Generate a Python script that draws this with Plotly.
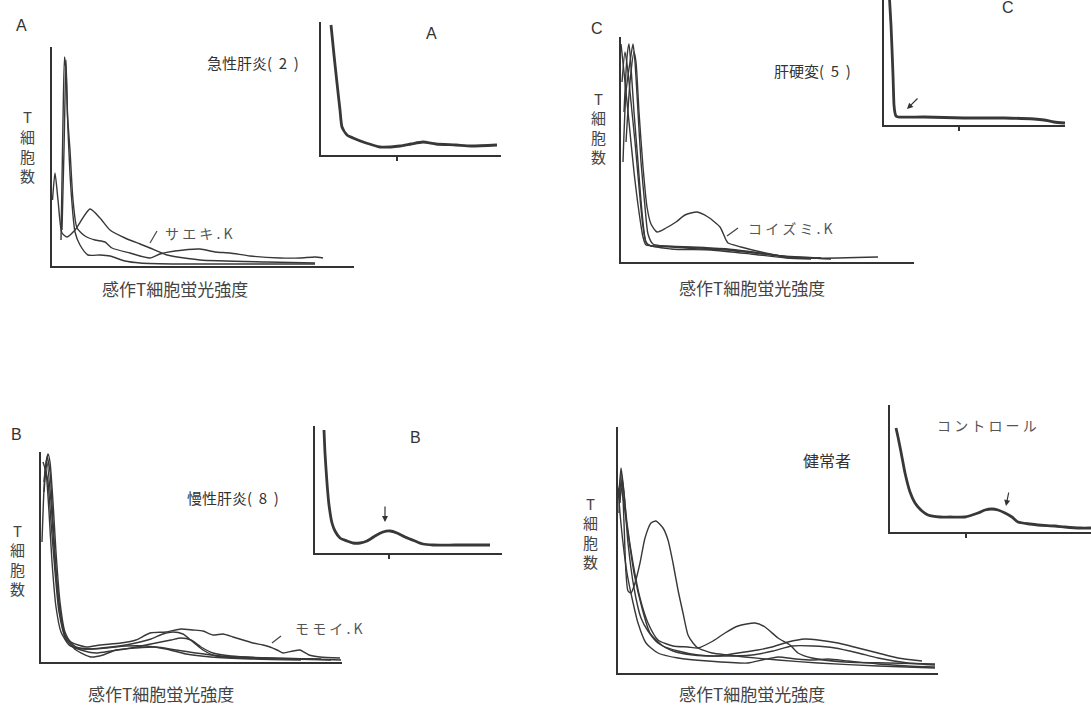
import plotly.graph_objects as go

W, H = 1091, 706

# ---------------- data (arbitrary units) ----------------
# Panel A: acute hepatitis, main plot (x 0..302, y 0..219)
a1_x = [0.5, 3, 6, 10, 15, 23, 38, 48, 58, 73, 88, 98, 115, 148, 215, 263]
a1_y = [66, 93, 66, 33, 29, 36, 57, 48, 36, 28, 22, 18, 11, 6, 4, 3]
a2_x = [9, 11, 12.5, 14, 16, 19, 23, 28, 36, 48, 58, 73, 88, 128, 198, 263]
a2_y = [26, 146, 209, 196, 136, 76, 34, 21, 11, 11, 10, 5, 3, 2, 2, 2]
a3_x = [10, 12, 14, 15.5, 18, 21, 25, 33, 43, 53, 60, 78, 98, 108, 123, 148, 163, 178, 198, 228, 248, 263, 271]
a3_y = [36, 116, 206, 151, 116, 66, 38, 30, 26, 24, 18, 13, 8, 12, 15, 17, 14, 13, 10, 8, 8, 9, 8]
# Panel A inset (x 0..180, y 0..133)
ia_x = [10, 13, 16, 19, 21, 26, 32, 45, 59, 79, 90, 102, 115, 135, 150, 176]
ia_y = [130, 100, 72, 45, 28, 20, 17, 12, 8, 9, 11, 13, 11, 10, 9, 10]

# Panel C: liver cirrhosis, main plot (x 0..293, y 0..225)
c1_x = [0, 3, 8, 13, 18, 22, 25, 40, 70, 107, 140, 177, 257]
c1_y = [218, 190, 140, 90, 50, 25, 17, 16, 15, 13, 9, 4, 5]
c2_x = [3, 6, 8, 10, 13, 17, 21, 25, 30, 50, 80, 110, 135, 170, 210]
c2_y = [150, 205, 218, 195, 150, 100, 50, 20, 16, 15, 13, 12, 9, 5, 3]
c3_x = [2, 5, 9, 12, 14, 17, 20, 24, 27, 32, 60, 95, 125, 160, 200]
c3_y = [100, 170, 200, 218, 200, 150, 100, 55, 28, 18, 15, 13, 10, 6, 4]
c4_x = [5, 9, 13, 15, 18, 22, 26, 30, 36, 45, 55, 64, 76, 87, 99, 105, 107, 120, 140, 165, 200]
c4_y = [120, 180, 210, 200, 150, 95, 55, 38, 30, 34, 40, 47, 50, 45, 35, 22, 19, 15, 10, 5, 4]
c5_x = [1, 4, 7, 10, 14, 18, 22, 26, 50, 90, 130, 165, 190]
c5_y = [180, 210, 190, 160, 120, 75, 35, 18, 13, 12, 8, 4, 3]
# Panel C inset (x 0..181, y 0..125)
ic_x = [5, 7, 9, 10, 11, 12, 14, 40, 80, 120, 150, 160, 170, 181]
ic_y = [135, 100, 50, 20, 12, 9, 8, 8, 7, 7, 6, 5, 3, 2]

# Panel B: chronic hepatitis, main plot (x 0..301, y 0..210)
b1_x = [1, 4, 7, 9, 12, 15, 19, 24, 30, 45, 59, 80, 95, 109, 125, 140, 152, 162, 172, 182, 192, 202, 212, 222, 229, 236, 242, 252, 259, 268, 279, 299]
b1_y = [120, 190, 208, 200, 160, 110, 60, 30, 20, 15, 17, 19, 22, 29, 30, 33, 32, 31, 27, 28, 25, 22, 19, 17, 15, 12, 9, 11, 12, 7, 5, 4]
b2_x = [3, 6, 9, 12, 16, 20, 25, 35, 50, 70, 90, 110, 122, 132, 142, 152, 162, 175, 200, 250, 290]
b2_y = [180, 205, 190, 140, 80, 45, 25, 15, 13, 15, 18, 23, 28, 30, 28, 20, 12, 6, 4, 3, 2]
b3_x = [2, 5, 8, 11, 15, 20, 28, 40, 55, 70, 90, 110, 130, 140, 150, 160, 172, 190, 230, 280]
b3_y = [200, 190, 150, 100, 55, 30, 17, 12, 9, 11, 14, 18, 22, 24, 22, 15, 9, 6, 4, 3]
b4_x = [4, 7, 10, 14, 18, 24, 35, 50, 62, 75, 95, 115, 135, 155, 180, 220, 270, 300]
b4_y = [195, 180, 140, 90, 50, 25, 12, 5, 7, 12, 14, 15, 12, 9, 6, 4, 3, 2]
b5_x = [3, 6, 10, 14, 19, 25, 35, 50, 65, 85, 105, 125, 145, 170, 210, 260]
b5_y = [170, 200, 160, 100, 50, 22, 14, 13, 14, 16, 16, 13, 8, 5, 3, 2]
# Panel B inset (x 0..187, y 0..127)
ib_x = [9, 10, 12, 14, 17, 20, 25, 32, 38, 45, 52, 60, 68, 75, 82, 90, 100, 108, 118, 140, 160, 175]
ib_y = [123, 100, 70, 48, 30, 22, 15, 12, 10, 10, 12, 17, 21, 22, 20, 16, 12, 9, 8, 8, 8, 8]

# Panel D: healthy subjects, main plot (x 0..320, y 0..246)
d1_x = [2, 4, 6, 8, 10, 13, 17, 22, 27, 33, 38, 45, 50, 55, 60, 65, 70, 75, 80, 94, 110, 127, 160, 200, 260, 317]
d1_y = [170, 196, 150, 100, 82, 80, 90, 110, 135, 150, 152, 145, 133, 110, 83, 60, 38, 30, 25, 20, 18, 16, 13, 10, 7, 5]
d2_x = [1, 3, 5, 9, 15, 22, 30, 40, 55, 70, 80, 95, 107, 120, 137, 147, 160, 172, 180, 194, 227, 270, 317]
d2_y = [180, 205, 190, 150, 110, 75, 50, 33, 27, 26, 25, 32, 40, 47, 50, 46, 35, 28, 20, 15, 11, 10, 9]
d3_x = [0, 2, 5, 10, 16, 24, 32, 45, 60, 80, 100, 120, 140, 154, 170, 187, 200, 220, 240, 260, 280, 304]
d3_y = [175, 190, 175, 140, 100, 65, 40, 27, 22, 18, 17, 20, 23, 26, 31, 34, 33, 30, 25, 20, 15, 12]
d4_x = [1, 3, 6, 10, 16, 23, 30, 40, 55, 75, 100, 134, 155, 174, 195, 217, 240, 260, 290, 317]
d4_y = [160, 200, 180, 130, 85, 55, 42, 30, 22, 18, 17, 18, 22, 27, 27, 25, 20, 15, 10, 8]
d5_x = [0, 2, 5, 9, 14, 20, 28, 40, 60, 90, 130, 144, 160, 178, 195, 210, 230, 260, 290, 317]
d5_y = [185, 160, 130, 100, 75, 50, 30, 20, 15, 12, 10, 13, 16, 14, 13, 14, 12, 9, 7, 6]
# Panel D inset (x 0..201, y 0..127)
id_x = [6, 8, 11, 15, 20, 25, 32, 38, 50, 60, 75, 88, 95, 102, 108, 115, 122, 128, 140, 148, 165, 175, 190, 201]
id_y = [104, 95, 80, 59, 40, 29, 21, 17, 15, 15, 15, 19, 22, 23, 22, 19, 15, 10, 8, 7, 6, 5, 4, 4]

# axis-title texts
y_title_chars = ["T", "細", "胞", "数"]
x_title = "感作T細胞蛍光強度"

# ---------------- layout helpers ----------------
LINE = "#383838"
TXT = "#333333"
JP = "Noto Sans CJK JP"


def px_x(px):
    return px / W


def px_y(py):
    return 1 - py / H


# panel boxes in pixels: (left, right, top, bottom), axis ranges, inset tick
panels = [
    dict(box=(52, 354, 47, 266), xr=302, yr=219, series=[(a1_x, a1_y), (a2_x, a2_y), (a3_x, a3_y)], inset=False),
    dict(box=(321, 501, 22, 155), xr=180, yr=133, series=[(ia_x, ia_y)], inset=True, tick=76),
    dict(box=(621, 914, 37, 262), xr=293, yr=225, series=[(c1_x, c1_y), (c2_x, c2_y), (c3_x, c3_y), (c4_x, c4_y), (c5_x, c5_y)], inset=False),
    dict(box=(884, 1065, 0, 125), xr=181, yr=125, series=[(ic_x, ic_y)], inset=True, tick=75),
    dict(box=(41, 342, 452, 662), xr=301, yr=210, series=[(b1_x, b1_y), (b2_x, b2_y), (b3_x, b3_y), (b4_x, b4_y), (b5_x, b5_y)], inset=False),
    dict(box=(315, 502, 426, 553), xr=187, yr=127, series=[(ib_x, ib_y)], inset=True, tick=74),
    dict(box=(618, 938, 427, 673), xr=320, yr=246, series=[(d1_x, d1_y), (d2_x, d2_y), (d3_x, d3_y), (d4_x, d4_y), (d5_x, d5_y)], inset=False),
    dict(box=(890, 1091, 405, 532), xr=201, yr=127, series=[(id_x, id_y)], inset=True, tick=76),
]

fig = go.Figure()
layout_axes = {}
for i, p in enumerate(panels, start=1):
    l, r, t, b = p["box"]
    xa = "x" if i == 1 else f"x{i}"
    ya = "y" if i == 1 else f"y{i}"
    for xs, ys in p["series"]:
        fig.add_trace(go.Scatter(
            x=xs, y=ys, mode="lines", xaxis=xa, yaxis=ya,
            line=dict(color=LINE, width=2.8 if p["inset"] else 1.4, shape="spline", smoothing=0.6),
            showlegend=False, hoverinfo="skip"))
    xkey = "xaxis" if i == 1 else f"xaxis{i}"
    ykey = "yaxis" if i == 1 else f"yaxis{i}"
    xdict = dict(domain=[px_x(l), px_x(r)], range=[0, p["xr"]], anchor=ya,
                 showgrid=False, zeroline=False, showline=True, linecolor="#333",
                 linewidth=2 if p["inset"] else 1.6, showticklabels=False, fixedrange=True)
    if p["inset"]:
        xdict.update(tickvals=[p["tick"]], ticks="outside", ticklen=4, tickwidth=1.5, tickcolor="#333")
    else:
        xdict.update(ticks="")
    layout_axes[xkey] = xdict
    layout_axes[ykey] = dict(domain=[px_y(b), px_y(t)], range=[0, p["yr"]], anchor=xa,
                             showgrid=False, zeroline=False, showline=True, linecolor="#333",
                             linewidth=2 if p["inset"] else 1.6, showticklabels=False, ticks="",
                             fixedrange=True)

fig.update_layout(**layout_axes)

ann = []


def text(s, x, y, size=13, color=TXT, family=JP, xanchor="center"):
    ann.append(dict(text=s, x=px_x(x), y=px_y(y), xref="paper", yref="paper",
                    showarrow=False, xanchor=xanchor, yanchor="middle",
                    font=dict(size=size, color=color, family=family)))


SANS = "Liberation Sans, Arial, sans-serif"
# panel letters
text("A", 21, 26, 16, family=SANS)
text("A", 431, 34, 16, family=SANS)
text("C", 597, 28, 16, family=SANS)
text("C", 1008, 8, 16, family=SANS)
text("B", 16, 434, 16, family=SANS)
text("B", 415, 437, 16, family=SANS)

# group titles
text("急性肝炎(  2  )", 253, 63, 15)
text("肝硬変(  5  )", 812, 71, 15)
text("慢性肝炎(  8  )", 233, 497, 15)
text("健常者", 827, 460, 16)
text("コ ン ト ロ ー ル", 987, 425, 14, color="#555")

# patient labels
text("サ エ キ . K", 198, 233, 14, color="#555")
text("コ イ ズ ミ . K", 790, 228, 14, color="#555")
text("モ モ イ . K", 328, 628, 14, color="#555")

# y-axis labels (vertical, one character per line)
for (cx, tops) in [(27, 117), (598, 98), (17, 530), (590, 503)]:
    for k, ch in enumerate(y_title_chars):
        text(ch, cx, tops + 19.5 * k, 15, color="#444")

# x-axis labels
text(x_title, 175, 288, 17, color="#444")
text(x_title, 752, 287, 17, color="#444")
text(x_title, 161, 693, 17, color="#444")
text(x_title, 752, 693, 17, color="#444")

# arrows in insets
for (hx, hy, tx, ty) in [(907, 109, 919, 97), (385, 522, 385, 505), (1006, 506, 1009, 491)]:
    ann.append(dict(x=px_x(hx), y=px_y(hy), xref="paper", yref="paper", text="",
                    showarrow=True, arrowhead=2, arrowsize=1, arrowwidth=1.2,
                    arrowcolor="#333", ax=tx - hx, ay=ty - hy))

shapes = []
for (x0, y0, x1, y1) in [(150, 243, 157, 231), (727, 236, 738, 228), (272, 643, 281, 636)]:
    shapes.append(dict(type="line", xref="paper", yref="paper",
                       x0=px_x(x0), y0=px_y(y0), x1=px_x(x1), y1=px_y(y1),
                       line=dict(color="#444", width=1.2)))

fig.update_layout(
    width=W, height=H, margin=dict(l=0, r=0, t=0, b=0),
    paper_bgcolor="white", plot_bgcolor="rgba(0,0,0,0)",
    annotations=ann, shapes=shapes, showlegend=False,
)

fig.write_html(
    "out.html",
    config={"displayModeBar": False},
    post_script="document.body.style.margin='0';document.body.style.padding='0';document.body.style.overflow='hidden';",
)
